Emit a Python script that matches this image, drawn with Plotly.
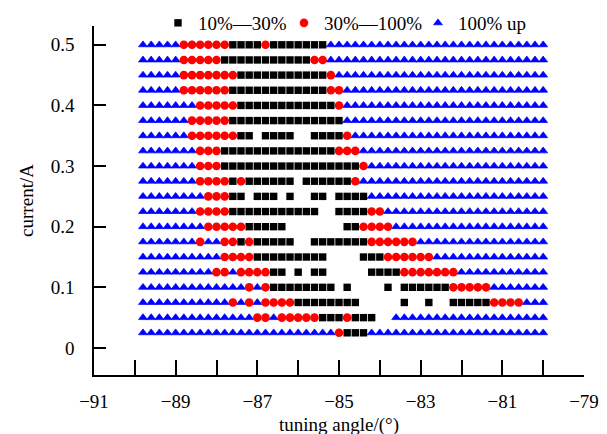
import plotly.graph_objects as go

# ---- data ----
angles = [-89.8, -89.6, -89.4, -89.2, -89.0, -88.8, -88.6, -88.4, -88.2, -88.0,
          -87.8, -87.6, -87.4, -87.2, -87.0, -86.8, -86.6, -86.4, -86.2, -86.0,
          -85.8, -85.6, -85.4, -85.2, -85.0, -84.8, -84.6, -84.4, -84.2, -84.0,
          -83.8, -83.6, -83.4, -83.2, -83.0, -82.8, -82.6, -82.4, -82.2, -82.0,
          -81.8, -81.6, -81.4, -81.2, -81.0, -80.8, -80.6, -80.4, -80.2, -80.0]

currents = [0.025, 0.05, 0.075, 0.1, 0.125, 0.15, 0.175, 0.2, 0.225, 0.25,
            0.275, 0.3, 0.325, 0.35, 0.375, 0.4, 0.425, 0.45, 0.475, 0.5]

# run-length status per current row (B: 10%-30%, R: 30%-100%, T: 100% up, .: none)
status_rows = [
    "T24 R1 B3 T22",
    "T14 R2 T1 R5 B3 R1 B3 .2 T19",
    "T11 R1 T1 R1 T1 R4 B8 .5 B1 .2 B1 .2 B5 R4 T3",
    "T13 R1 T1 R1 B8 .1 B1 .4 B1 .1 B6 R5 T7",
    "T9 R2 T1 R4 B2 .1 B1 .1 B2 .5 B4 R7 T11",
    "T10 R4 B9 .4 B3 R6 T14",
    "T7 R1 T2 R2 B1 R1 B5 .2 B7 R6 T16",
    "T8 R5 B5 .7 B2 R4 T19",
    "T7 R4 B11 .2 B4 R2 T20",
    "T8 R3 B2 .1 B3 .1 B1 .2 B2 .1 B4 T22",
    "T7 R4 B1 R1 B6 .1 B6 R1 T23",
    "T7 R3 B17 R1 T22",
    "T7 R3 B14 R3 T23",
    "T6 R6 B2 .1 B4 .2 B4 R1 T24",
    "T6 R5 B14 T25",
    "T7 R5 B12 R1 T25",
    "T5 R6 B12 R2 T25",
    "T5 R7 B11 R1 T26",
    "T5 R5 B11 R2 T27",
    "T5 R6 B4 R1 B7 T27",
]

category_names = {"B": "10%\u201430%", "R": "30%\u2014100%", "T": "100% up"}

x_ticks = [-91, -90, -89, -88, -87, -86, -85, -84, -83, -82, -81, -80, -79]
x_labels = ["\u221291", "", "\u221289", "", "\u221287", "", "\u221285", "",
            "\u221283", "", "\u221281", "", "\u221279"]
y_ticks = [0, 0.1, 0.2, 0.3, 0.4, 0.5]
y_labels = ["0", "0.1", "0.2", "0.3", "0.4", "0.5"]

# ---- build point lists ----
def expand(spec):
    out = []
    for tok in spec.split():
        out += [tok[0]] * int(tok[1:])
    return out

pts = {"B": ([], []), "R": ([], []), "T": ([], [])}
for cur, spec in zip(currents, status_rows):
    cells = expand(spec)
    for a, c in zip(angles, cells):
        if c in pts:
            pts[c][0].append(a)
            pts[c][1].append(cur)

FONT = "Liberation Serif"
fig = go.Figure()

style = {
    "T": dict(symbol="triangle-up", size=7.8, color="#0000FF", line=dict(width=0.7, color="#0000FF")),
    "R": dict(symbol="circle", size=8.6, color="#FF0000", line=dict(width=0)),
    "B": dict(symbol="square", size=7.4, color="#000000", line=dict(width=0)),
}
rank = {"B": 1, "R": 2, "T": 3}
lw = {"B": 81, "R": 89, "T": 80}
for key in ["T", "R", "B"]:
    fig.add_trace(go.Scatter(
        x=pts[key][0], y=pts[key][1], mode="markers",
        name=category_names[key], marker=style[key],
        legendrank=rank[key], legendwidth=lw[key],
    ))

fig.update_layout(
    width=607, height=434,
    margin=dict(l=86, r=31, t=18, b=67, autoexpand=False),
    paper_bgcolor="white", plot_bgcolor="white",
    font=dict(family=FONT, size=19, color="black"),
    showlegend=True,
    legend=dict(orientation="h", x=(150 - 86) / 490, xanchor="left",
                y=(367 - 15) / 349, yanchor="middle",
                font=dict(family=FONT, size=19, color="black"),
                bgcolor="rgba(0,0,0,0)", itemwidth=30,
                traceorder="normal"),
)
fig.update_xaxes(
    range=[-91, -79], tickmode="array", tickvals=x_ticks, ticktext=x_labels,
    ticks="inside", ticklen=15, tickwidth=1.5, tickcolor="black",
    showline=True, linecolor="black", linewidth=1.5,
    showgrid=False, zeroline=False, ticklabelstandoff=8,
    tickfont=dict(family=FONT, size=19),
    title=dict(text="tuning angle/(\u00b0)", standoff=7,
               font=dict(family=FONT, size=19)),
    automargin=False,
)
fig.update_yaxes(
    range=[-0.0446, 0.531], tickmode="array", tickvals=y_ticks, ticktext=y_labels,
    ticks="inside", ticklen=12, tickwidth=1.5, tickcolor="black",
    showline=True, linecolor="black", linewidth=1.5,
    showgrid=False, zeroline=False, ticklabelstandoff=14,
    tickfont=dict(family=FONT, size=19),
    title=dict(text="current/A", standoff=12,
               font=dict(family=FONT, size=19)),
    automargin=False,
)

fig.write_html("out.html")
